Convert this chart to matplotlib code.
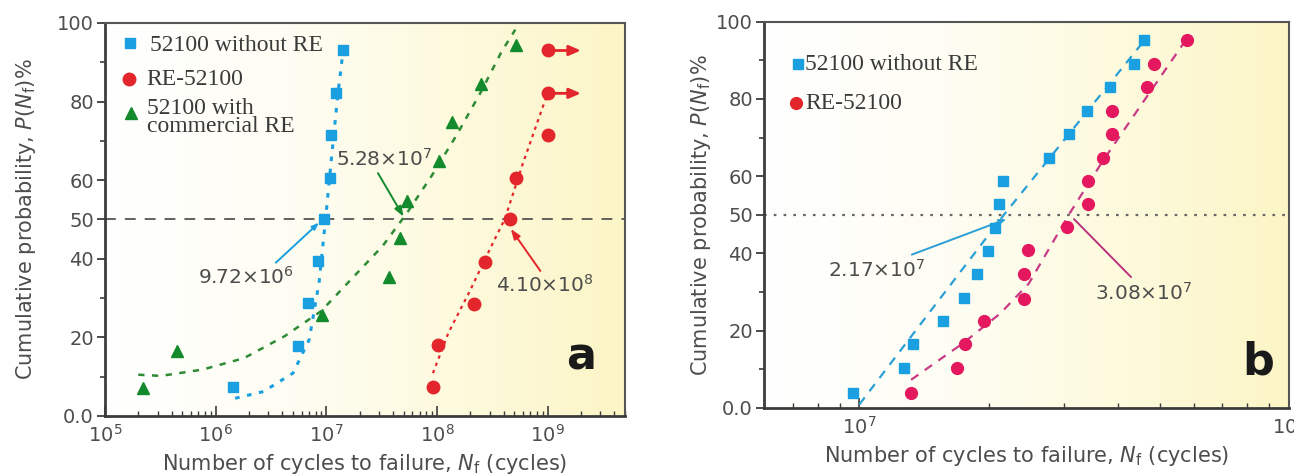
import numpy as np
import matplotlib
matplotlib.use("Agg")
import matplotlib.pyplot as plt
from matplotlib.colors import LinearSegmentedColormap

plt.rcParams['font.family'] = ['DejaVu Sans']
plt.rcParams['mathtext.fontset'] = 'dejavusans'

# ---------------- Panel (a) data ----------------
a_blue_x = [1.43e6, 5.6e6, 6.9e6, 8.5e6, 9.6e6, 1.09e7, 1.10e7, 1.23e7, 1.41e7]
a_blue_y = [7.3, 17.7, 28.8, 39.5, 50.1, 60.6, 71.6, 82.1, 93.0]
a_red_x = [9.2e7, 1.03e8, 2.17e8, 2.73e8, 4.6e8, 5.2e8, 1.0e9, 1.0e9, 1.0e9]
a_red_y = [7.3, 18.0, 28.6, 39.3, 50.1, 60.6, 71.4, 82.1, 93.0]
a_green_x = [2.2e5, 4.5e5, 9.2e6, 3.66e7, 4.66e7, 5.35e7, 1.04e8, 1.36e8, 2.5e8, 5.2e8]
a_green_y = [7.0, 16.6, 25.7, 35.4, 45.2, 54.8, 64.8, 74.9, 84.5, 94.3]
a_runout_y = [82.1, 93.0]          # run-out specimens (arrows)
a_runout_x0 = 1.0e9
a_runout_x1 = 2.0e9

# fitted curves
a_blue_fit_x = [1.5e6, 2.7e6, 5.0e6, 7.0e6, 8.6e6, 9.85e6, 1.12e7, 1.27e7, 1.44e7]
a_blue_fit_y = [4.5, 6.2, 10.9, 19.4, 33.9, 50.1, 66.3, 81.7, 94.5]
a_green_fit_x = [2.0e5, 3.2e5, 7.6e5, 1.8e6, 4.2e6, 9.0e6, 1.79e7, 3.24e7, 5.4e7, 9.0e7, 1.5e8, 2.5e8, 3.85e8, 5.1e8]
a_green_fit_y = [10.5, 10.2, 11.8, 14.7, 20.3, 26.7, 35.6, 43.3, 51.8, 61.2, 71.4, 82.5, 92.8, 98.3]
a_red_fit_x = [9.2e7, 1.27e8, 1.95e8, 3.11e8, 4.10e8, 5.9e8, 8.3e8, 1.0e9]
a_red_fit_y = [10.9, 21.2, 31.4, 43.3, 50.1, 63.8, 75.7, 82.1]

# ---------------- Panel (b) data ----------------
b_blue_x = [9.66e6, 1.27e7, 1.33e7, 1.57e7, 1.75e7, 1.88e7, 1.99e7, 2.07e7,
            2.11e7, 2.16e7, 2.77e7, 3.08e7, 3.39e7, 3.83e7, 4.35e7, 4.61e7]
b_blue_y = [4.0, 10.3, 16.5, 22.6, 28.6, 34.6, 40.6, 46.6,
            52.8, 58.8, 64.8, 70.8, 77.0, 83.0, 89.0, 95.3]
b_red_x = [1.32e7, 1.69e7, 1.76e7, 1.95e7, 2.42e7, 2.42e7, 2.47e7, 3.04e7,
           3.40e7, 3.40e7, 3.69e7, 3.87e7, 3.87e7, 4.68e7, 4.86e7, 5.79e7]
b_red_y = [4.0, 10.3, 16.5, 22.6, 28.3, 34.6, 40.8, 46.8,
           52.8, 58.8, 64.8, 71.0, 76.8, 83.0, 89.0, 95.3]
b_blue_fit_x = [1.0e7, 2.17e7, 4.65e7]
b_blue_fit_y = [0.9, 50.0, 95.7]
b_red_fit_x = [1.32e7, 1.74e7, 2.13e7, 2.48e7, 3.08e7, 3.69e7, 4.59e7, 5.79e7]
b_red_fit_y = [7.3, 16.7, 24.5, 32.2, 50.2, 64.0, 79.4, 95.7]

y_major = [0, 20, 40, 50, 60, 80, 100]
y_major_labels = ['0.0', '20', '40', '50', '60', '80', '100']
y_minor = [10, 30, 70, 90]

BLUE = '#1a9fe0'
RED = '#e3262b'
GREEN = '#138a2c'
MAG = '#e4175f'
MAG_LINE = '#c83a86'
GRAY_TXT = '#4d4d4d'
SPINE = '#3c3c3c'

fig = plt.figure(figsize=(12.94, 4.76), dpi=100)
fig.patch.set_facecolor('white')

grad_cmap = LinearSegmentedColormap.from_list(
    'bg', [(0.0, '#ffffff'), (0.35, '#fefdf3'), (0.7, '#fdfadc'), (1.0, '#fcf5c6')])


def make_axes(rect, ylabelpad):
    bg = fig.add_axes(rect, zorder=0)
    bg.imshow(np.linspace(0, 1, 256).reshape(1, -1), cmap=grad_cmap,
              aspect='auto', extent=[0, 1, 0, 1])
    bg.set_axis_off()
    ax = fig.add_axes(rect, zorder=1)
    ax.patch.set_alpha(0)
    ax.set_xscale('log')
    ax.set_ylim(0, 100)
    ax.set_yticks(y_major)
    ax.set_yticklabels(y_major_labels)
    ax.set_yticks(y_minor, minor=True)
    ax.tick_params(axis='y', which='major', direction='out', length=6, width=1.3,
                   colors=SPINE, labelcolor=GRAY_TXT, labelsize=14, pad=2)
    ax.tick_params(axis='y', which='minor', direction='out', length=3.5, width=1.2,
                   colors=SPINE)
    ax.tick_params(axis='x', which='major', direction='in', length=7, width=1.2,
                   colors=SPINE, labelcolor=GRAY_TXT, labelsize=14, pad=6)
    ax.tick_params(axis='x', which='minor', direction='in', length=3.5, width=1.0,
                   colors=SPINE)
    for s in ['left', 'bottom']:
        ax.spines[s].set_linewidth(2.0)
        ax.spines[s].set_color(SPINE)
    for s in ['top', 'right']:
        ax.spines[s].set_linewidth(1.5)
        ax.spines[s].set_color('#555555')
    ax.set_ylabel(r'Cumulative probability, $\mathit{P}$($\mathit{N}_\mathrm{f}$)%',
                  fontsize=15, color=GRAY_TXT, labelpad=ylabelpad)
    ax.set_xlabel(r'Number of cycles to failure, $\mathit{N}_\mathrm{f}$ (cycles)',
                  fontsize=15, color=GRAY_TXT, labelpad=4)
    return ax


serif = dict(family=['Liberation Serif', 'DejaVu Serif'], fontsize=17, color='#3a3a3a')
ann = dict(fontsize=14.5, color=GRAY_TXT)

# ================= Panel (a) =================
axa = make_axes([0.0811, 0.1261, 0.4019, 0.8256], 14)
axa.set_xlim(1e5, 5e9)
axa.axhline(50, color='#555555', lw=1.3, ls=(0, (6, 5)), zorder=1)

axa.plot(a_blue_fit_x, a_blue_fit_y, ls=(0, (1.5, 2.5)), color=BLUE, lw=2.2, zorder=2)
axa.plot(a_green_fit_x, a_green_fit_y, ls=(0, (2.5, 3)), color='#2e8b35', lw=1.8, zorder=2)
axa.plot(a_red_fit_x, a_red_fit_y, ls=(0, (1.5, 2)), color=RED, lw=1.6, zorder=2)

axa.plot(a_blue_x, a_blue_y, 's', color=BLUE, ms=7.5, zorder=4)
axa.plot(a_red_x, a_red_y, 'o', color=RED, ms=9, zorder=4)
axa.plot(a_green_x, a_green_y, '^', color=GREEN, ms=8.5, zorder=4)

for yv in a_runout_y:
    axa.annotate('', xy=(a_runout_x1, yv), xytext=(a_runout_x0, yv),
                 arrowprops=dict(arrowstyle='-|>,head_length=0.7,head_width=0.3',
                                 color=RED, lw=2.0, shrinkA=0, shrinkB=0), zorder=3)

# annotations
axa.annotate('', xy=(8.6e6, 49.2), xytext=(3.5e6, 39.0),
             arrowprops=dict(arrowstyle='-|>,head_length=0.4,head_width=0.15',
                             color=BLUE, lw=1.4, shrinkA=0, shrinkB=0))
axa.text(1.9e6, 35.3, r'9.72×10$^{6}$', ha='center', va='center', **ann)
axa.annotate('', xy=(4.99e7, 50.7), xytext=(2.93e7, 61.8),
             arrowprops=dict(arrowstyle='-|>,head_length=0.6,head_width=0.22',
                             color=GREEN, lw=1.4, shrinkA=0, shrinkB=0))
axa.text(3.3e7, 65.4, r'5.28×10$^{7}$', ha='center', va='center', **ann)
axa.annotate('', xy=(4.65e8, 47.6), xytext=(8.6e8, 36.9),
             arrowprops=dict(arrowstyle='-|>,head_length=0.6,head_width=0.22',
                             color=RED, lw=1.4, shrinkA=0, shrinkB=0))
axa.text(9.4e8, 33.3, r'4.10×10$^{8}$', ha='center', va='center', **ann)

axa.text(0.915, 0.15, 'a', transform=axa.transAxes, fontsize=32, fontweight='bold',
         color='#1a1a1a', ha='center', va='center')

# manual legend (a)
axa.plot([0.048], [0.948], 's', color=BLUE, ms=7, transform=axa.transAxes, clip_on=False)
axa.text(0.086, 0.942, '52100 without RE', transform=axa.transAxes, va='center', **serif)
axa.plot([0.047], [0.858], 'o', color=RED, ms=9, transform=axa.transAxes, clip_on=False)
axa.text(0.080, 0.855, 'RE-52100', transform=axa.transAxes, va='center', **serif)
axa.plot([0.051], [0.770], '^', color=GREEN, ms=9, transform=axa.transAxes, clip_on=False)
axa.text(0.080, 0.760, '52100 with\ncommercial RE', transform=axa.transAxes, va='center',
         linespacing=0.82, **serif)

# ================= Panel (b) =================
axb = make_axes([0.5904, 0.1429, 0.4057, 0.8115], 2)
axb.set_xlim(6e6, 1e8)
axb.axhline(50, color='#666666', lw=1.6, ls=(0, (1.2, 3.2)), zorder=1)

axb.plot(b_blue_fit_x, b_blue_fit_y, ls=(0, (4, 3.5)), color='#2a9fd6', lw=1.6, zorder=2)
axb.plot(b_red_fit_x, b_red_fit_y, ls=(0, (4, 3.5)), color=MAG_LINE, lw=1.6, zorder=2)

axb.plot(b_blue_x, b_blue_y, 's', color=BLUE, ms=6.5, zorder=4)
axb.plot(b_red_x, b_red_y, 'o', color=MAG, ms=8.5, zorder=4)

axb.annotate('', xy=(2.2e7, 48.9), xytext=(1.325e7, 39.7),
             arrowprops=dict(arrowstyle='-|>,head_length=0.4,head_width=0.15',
                             color='#2a9fd6', lw=1.4, shrinkA=0, shrinkB=0))
axb.text(1.1e7, 35.8, r'2.17×10$^{7}$', ha='center', va='center', **ann)
axb.annotate('', xy=(3.16e7, 48.9), xytext=(4.29e7, 33.9),
             arrowprops=dict(arrowstyle='-', color='#b8327c', lw=1.4, shrinkA=0, shrinkB=0))
axb.text(4.6e7, 29.8, r'3.08×10$^{7}$', ha='center', va='center', **ann)

axb.text(0.941, 0.12, 'b', transform=axb.transAxes, fontsize=32, fontweight='bold',
         color='#1a1a1a', ha='center', va='center')

axb.plot([0.065], [0.891], 's', color=BLUE, ms=6.5, transform=axb.transAxes, clip_on=False)
axb.text(0.078, 0.888, '52100 without RE', transform=axb.transAxes, va='center', **serif)
axb.plot([0.061], [0.790], 'o', color=RED, ms=8.5, transform=axb.transAxes, clip_on=False)
axb.text(0.078, 0.788, 'RE-52100', transform=axb.transAxes, va='center', **serif)

fig.savefig('out.png', dpi=100, facecolor='white')
